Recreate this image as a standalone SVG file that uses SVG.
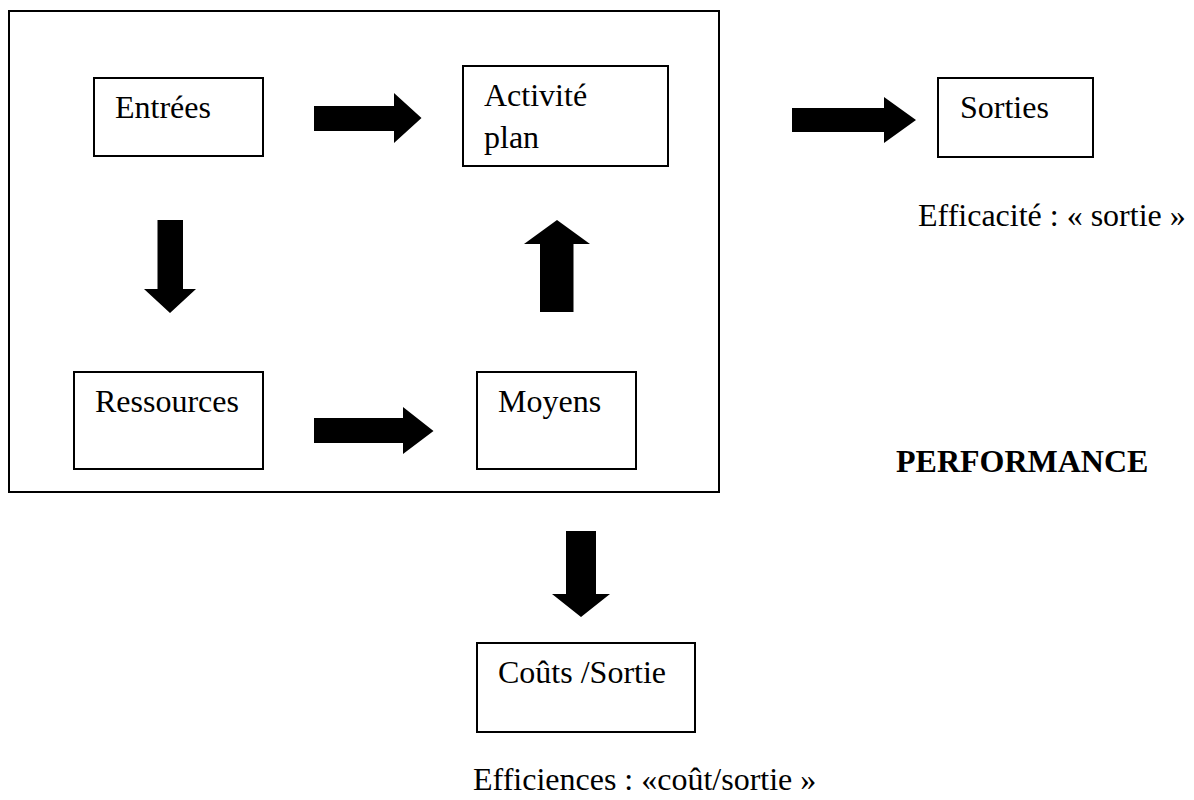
<svg xmlns="http://www.w3.org/2000/svg" width="1194" height="800" viewBox="0 0 1194 800">
  <style>
    .box { fill: #ffffff; stroke: #000000; stroke-width: 2; }
    .frame { fill: none; stroke: #000000; stroke-width: 2; }
    .arrow { fill: #000000; stroke: none; }
    .label { font-family: "Liberation Serif", "Times New Roman", serif; font-size: 32px; fill: #000000; }
    .bold { font-weight: bold; }
  </style>
  <rect width="1194" height="800" fill="#ffffff"/>

  <!-- process frame -->
  <rect id="frame" class="frame" x="9" y="11" width="710" height="481"/>

  <g id="entrees">
    <rect class="box" x="94" y="78" width="169" height="78"/>
    <text class="label" x="115" y="118">Entrées</text>
  </g>

  <g id="activite">
    <rect class="box" x="463" y="66" width="205" height="100"/>
    <text class="label" x="484" y="106">Activité</text>
    <text class="label" x="484" y="148">plan</text>
  </g>

  <g id="sorties">
    <rect class="box" x="938" y="78" width="155" height="79"/>
    <text class="label" x="960" y="118">Sorties</text>
  </g>

  <g id="ressources">
    <rect class="box" x="74" y="372" width="189" height="97"/>
    <text class="label" x="95" y="412">Ressources</text>
  </g>

  <g id="moyens">
    <rect class="box" x="477" y="372" width="159" height="97"/>
    <text class="label" x="498" y="412">Moyens</text>
  </g>

  <g id="couts">
    <rect class="box" x="477" y="643" width="218" height="89"/>
    <text class="label" x="498" y="683">Coûts /Sortie</text>
  </g>

  <g id="efficacite">
    <text class="label" x="918" y="226">Efficacité : « sortie »</text>
  </g>

  <g id="performance">
    <text class="label bold" x="896" y="472">PERFORMANCE</text>
  </g>

  <g id="efficiences">
    <text class="label" x="473" y="790">Efficiences : «coût/sortie »</text>
  </g>

  <!-- block arrows -->
  <g id="connectors">
    <!-- Entrées to Activité plan -->
    <polygon class="arrow" points="314,106 394,106 394,93 421.5,118 394,143 394,131 314,131"/>
    <!-- Activité plan to Sorties -->
    <polygon class="arrow" points="792,108 884,108 884,97 916,120 884,143 884,132 792,132"/>
    <!-- Entrées to Ressources -->
    <polygon class="arrow" points="157.5,220 183,220 183,289 196,289 170,313 144,289 157.5,289"/>
    <!-- Moyens to Activité plan -->
    <polygon class="arrow" points="540,312 573.5,312 573.5,244 590,244 557,220 524,244 540,244"/>
    <!-- Ressources to Moyens -->
    <polygon class="arrow" points="314,418 403,418 403,407 433.5,431 403,454 403,443 314,443"/>
    <!-- frame to Coûts /Sortie -->
    <polygon class="arrow" points="566,531 596,531 596,594 610,594 581,617 552,594 566,594"/>
  </g>
</svg>
